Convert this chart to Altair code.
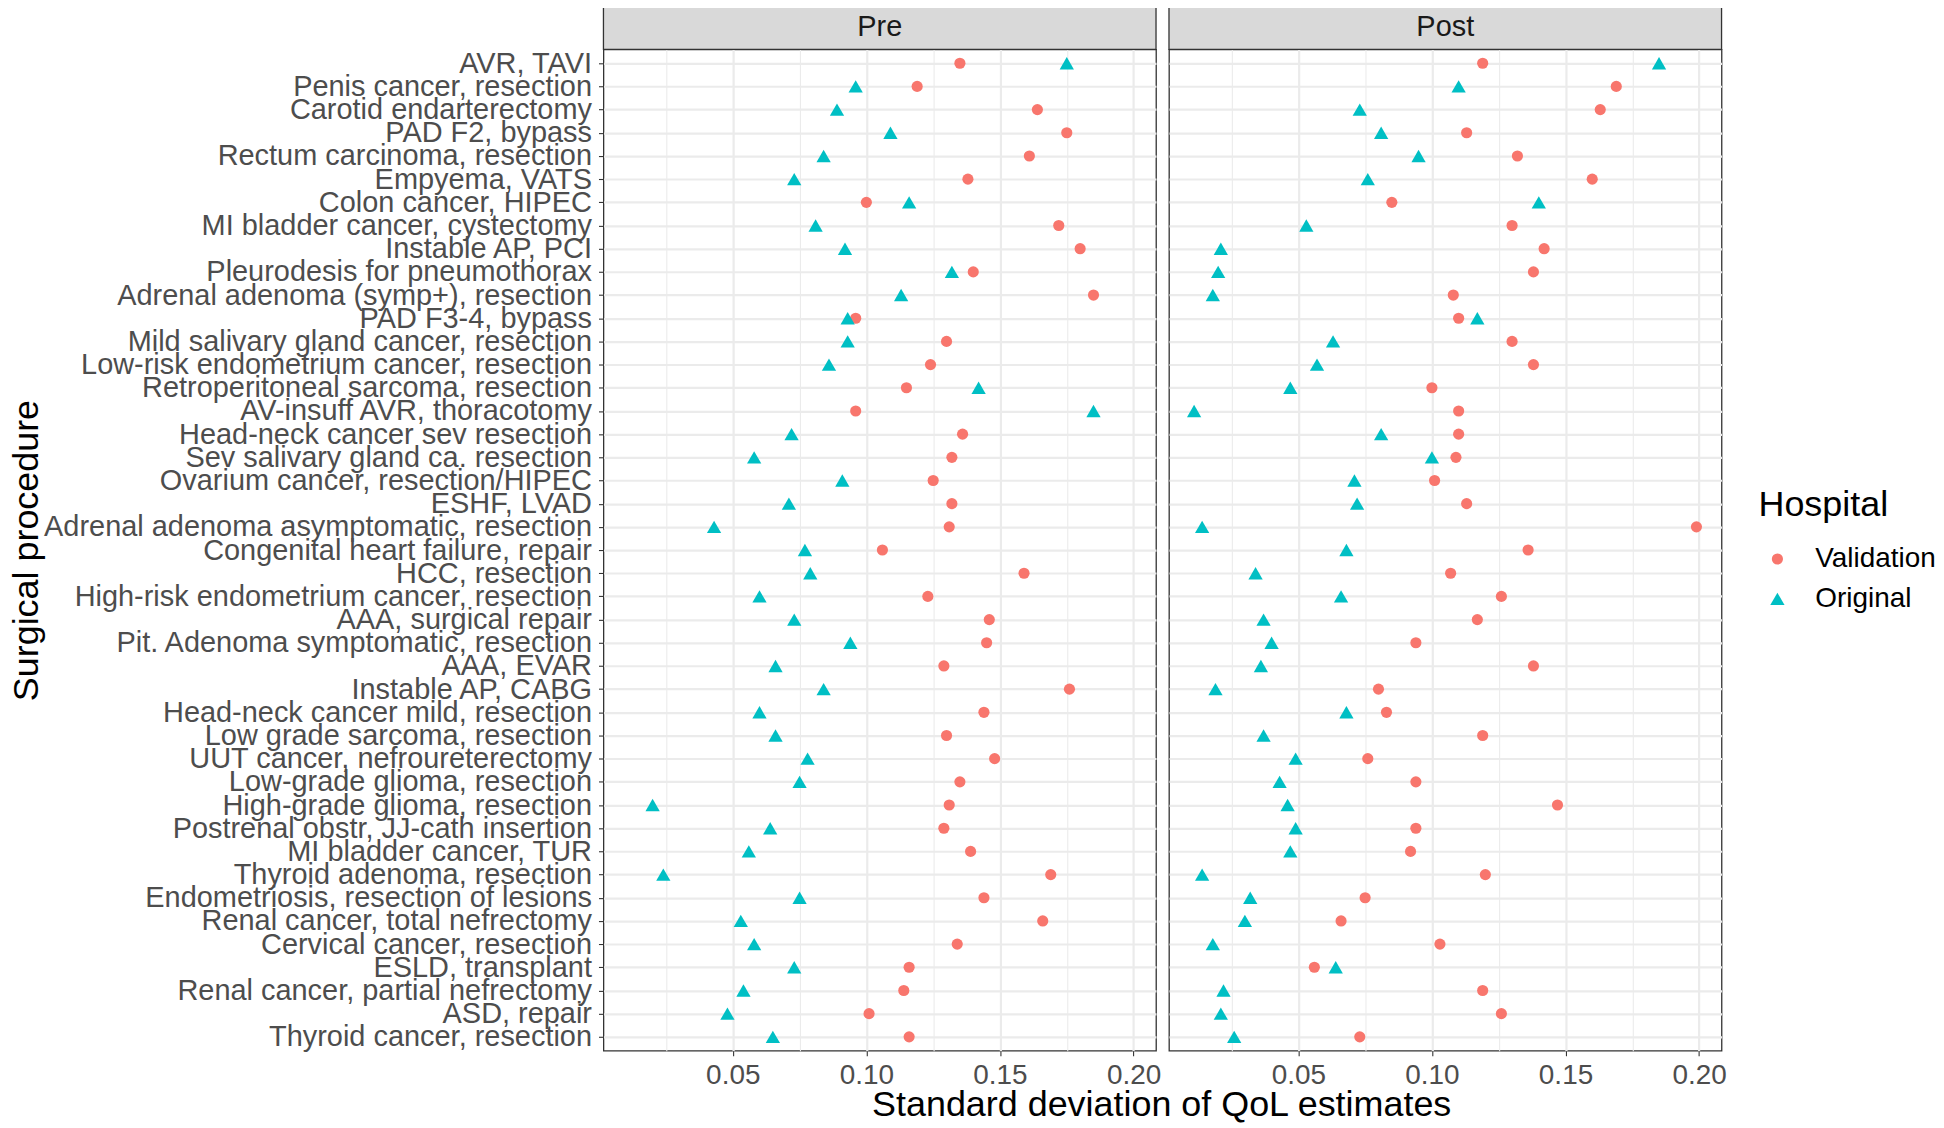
import altair as alt
import pandas as pd

FONT = "Liberation Sans"

procedures = [
    "AVR, TAVI",
    "Penis cancer, resection",
    "Carotid endarterectomy",
    "PAD F2, bypass",
    "Rectum carcinoma, resection",
    "Empyema, VATS",
    "Colon cancer, HIPEC",
    "MI bladder cancer, cystectomy",
    "Instable AP, PCI",
    "Pleurodesis for pneumothorax",
    "Adrenal adenoma (symp+), resection",
    "PAD F3-4, bypass",
    "Mild salivary gland cancer, resection",
    "Low-risk endometrium cancer, resection",
    "Retroperitoneal sarcoma, resection",
    "AV-insuff AVR, thoracotomy",
    "Head-neck cancer sev resection",
    "Sev salivary gland ca. resection",
    "Ovarium cancer, resection/HIPEC",
    "ESHF, LVAD",
    "Adrenal adenoma asymptomatic, resection",
    "Congenital heart failure, repair",
    "HCC, resection",
    "High-risk endometrium cancer, resection",
    "AAA, surgical repair",
    "Pit. Adenoma symptomatic, resection",
    "AAA, EVAR",
    "Instable AP, CABG",
    "Head-neck cancer mild, resection",
    "Low grade sarcoma, resection",
    "UUT cancer, nefroureterectomy",
    "Low-grade glioma, resection",
    "High-grade glioma, resection",
    "Postrenal obstr, JJ-cath insertion",
    "MI bladder cancer, TUR",
    "Thyroid adenoma, resection",
    "Endometriosis, resection of lesions",
    "Renal cancer, total nefrectomy",
    "Cervical cancer, resection",
    "ESLD, transplant",
    "Renal cancer, partial nefrectomy",
    "ASD, repair",
    "Thyroid cancer, resection",
]

pre_validation = [0.135, 0.119, 0.164, 0.175, 0.161, 0.138, 0.100, 0.172, 0.180, 0.140,
                  0.185, 0.096, 0.130, 0.124, 0.115, 0.096, 0.136, 0.132, 0.125, 0.132,
                  0.131, 0.106, 0.159, 0.123, 0.146, 0.145, 0.129, 0.176, 0.144, 0.130,
                  0.148, 0.135, 0.131, 0.129, 0.139, 0.169, 0.144, 0.166, 0.134, 0.116,
                  0.114, 0.101, 0.116]
pre_original = [0.175, 0.096, 0.089, 0.109, 0.084, 0.073, 0.116, 0.081, 0.092, 0.132,
                0.113, 0.093, 0.093, 0.086, 0.142, 0.185, 0.072, 0.058, 0.091, 0.071,
                0.043, 0.077, 0.079, 0.060, 0.073, 0.094, 0.066, 0.084, 0.060, 0.066,
                0.078, 0.075, 0.020, 0.064, 0.056, 0.024, 0.075, 0.053, 0.058, 0.073,
                0.054, 0.048, 0.065]
post_validation = [0.119, 0.169, 0.163, 0.113, 0.132, 0.160, 0.085, 0.130, 0.142, 0.138,
                   0.108, 0.110, 0.130, 0.138, 0.100, 0.110, 0.110, 0.109, 0.101, 0.113,
                   0.199, 0.136, 0.107, 0.126, 0.117, 0.094, 0.138, 0.080, 0.083, 0.119,
                   0.076, 0.094, 0.147, 0.094, 0.092, 0.120, 0.075, 0.066, 0.103, 0.056,
                   0.119, 0.126, 0.073]
post_original = [0.185, 0.110, 0.073, 0.081, 0.095, 0.076, 0.140, 0.053, 0.021, 0.020,
                 0.018, 0.117, 0.063, 0.057, 0.047, 0.011, 0.081, 0.100, 0.071, 0.072,
                 0.014, 0.068, 0.034, 0.066, 0.037, 0.040, 0.036, 0.019, 0.068, 0.037,
                 0.049, 0.043, 0.046, 0.049, 0.047, 0.014, 0.032, 0.030, 0.018, 0.064,
                 0.022, 0.021, 0.026]

phases = ["Pre", "Post"]
hospitals = ["Validation", "Original"]
hospital_colors = ["#F8766D", "#00BFC4"]
hospital_shapes = ["circle", "triangle-up"]
tick_values = [0.025, 0.05, 0.075, 0.10, 0.125, 0.15, 0.175, 0.20]

rows = []
for phase, vals, origs in [("Pre", pre_validation, pre_original),
                           ("Post", post_validation, post_original)]:
    for p, v, o in zip(procedures, vals, origs):
        rows.append(dict(Procedure=p, Phase=phase, Hospital="Validation", SD=v))
        rows.append(dict(Procedure=p, Phase=phase, Hospital="Original", SD=o))
df = pd.DataFrame(rows)

all_vals = pre_validation + pre_original + post_validation + post_original
lo, hi = min(all_vals), max(all_vals)
ex = 0.05 * (hi - lo)
x_domain = [lo - ex, hi + ex]

W, H, STRIP = 554, 1004, 45
LABEL_W = 544
GRID = "#EBEBEB"
major_test = "abs(round(datum.value * 40)) % 2 == 0"

legend = alt.Legend(
    title="Hospital", orient="none", legendX=1158, legendY=440,
    titleFontSize=36, titleFontWeight="normal", titleColor="black", titleFont=FONT,
    labelFontSize=28, labelColor="black", labelFont=FONT,
    rowPadding=12, titlePadding=21, symbolOffset=5, labelOffset=24,
    symbolStrokeWidth=0,
)


def panel(phase, first):
    sub = df[df.Phase == phase]
    x_axis = alt.Axis(
        values=tick_values, title=None,
        labelExpr=f"({major_test}) ? format(datum.value, '.2f') : ''",
        grid=True, gridColor=GRID,
        gridWidth={"condition": {"test": major_test, "value": 2.2}, "value": 1.1},
        tickOpacity={"condition": {"test": major_test, "value": 1}, "value": 0},
        tickColor="#333333", tickSize=5, tickWidth=1.1,
        labelFontSize=28, labelColor="#4D4D4D", labelFont=FONT, labelPadding=6,
        labelFlush=False, labelOverlap=False, domain=False,
    )
    if first:
        y_axis = alt.Axis(
            title="Surgical procedure", titleFontSize=36, titleFontWeight="normal",
            titleColor="black", titleFont=FONT, titleX=-(5 + 7 + LABEL_W + 3),
            titleBaseline="bottom", titleAngle=270,
            labelFontSize=29, labelColor="#4D4D4D", labelFont=FONT, labelPadding=7,
            labelLimit=800, tickColor="#333333", tickSize=5, tickWidth=1.1,
            grid=True, gridColor=GRID, gridWidth=2.2, domain=False,
        )
    else:
        y_axis = alt.Axis(title=None, labels=False, ticks=False, grid=True,
                          gridColor=GRID, gridWidth=2.2, domain=False)

    points = alt.Chart(sub).mark_point(filled=True, opacity=1).encode(
        x=alt.X("SD:Q", scale=alt.Scale(domain=x_domain, nice=False, zero=False), axis=x_axis),
        y=alt.Y("Procedure:N", sort=procedures,
                scale=alt.Scale(type="point", padding=0.6), axis=y_axis),
        color=alt.Color("Hospital:N", scale=alt.Scale(domain=hospitals, range=hospital_colors),
                        legend=legend),
        shape=alt.Shape("Hospital:N", scale=alt.Scale(domain=hospitals, range=hospital_shapes),
                        legend=legend),
        size=alt.Size("Hospital:N", scale=alt.Scale(domain=hospitals, range=[125, 205]),
                      legend=legend),
    )

    strip_df = pd.DataFrame({"Phase": [phase]})
    strip_rect = alt.Chart(strip_df).mark_rect(
        fill="#D9D9D9", stroke="#333333", strokeWidth=1.3
    ).encode(x=alt.value(0), x2=alt.value(W), y=alt.value(-STRIP), y2=alt.value(0))
    strip_text = alt.Chart(strip_df).mark_text(
        fontSize=29, color="#1A1A1A", font=FONT, baseline="middle", align="center"
    ).encode(text="Phase:N", x=alt.value(W / 2), y=alt.value(-STRIP / 2))

    return alt.layer(strip_rect, strip_text, points).properties(width=W, height=H)


chart = alt.hconcat(panel("Pre", True), panel("Post", False), spacing=5).properties(
    padding={"left": 0, "top": -7, "right": 0, "bottom": 0},
    title=alt.TitleParams(
        "Standard deviation of QoL estimates", orient="bottom", anchor="middle",
        fontSize=36, fontWeight="normal", color="black", font=FONT, dx=190, offset=-2,
    ),
).configure(font=FONT, background="white").configure_view(
    stroke="#333333", strokeWidth=1.3
)

chart.save("out.html", embed_options={"renderer": "svg", "actions": False})
